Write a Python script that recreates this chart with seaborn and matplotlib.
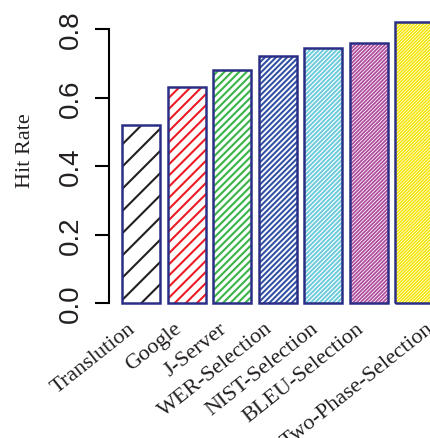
import matplotlib
matplotlib.use('Agg')
import matplotlib.pyplot as plt
import matplotlib.transforms as mtransforms
import seaborn as sns

# values
methods = ['Translution', 'Google', 'J-Server', 'WER-Selection',
           'NIST-Selection', 'BLEU-Selection', 'Two-Phase-Selection']
hit_rate = [0.52, 0.632, 0.681, 0.722, 0.744, 0.758, 0.820]
hatch_colors = ['#231F20', '#ED1C24', '#39B54A', '#3452A4',
                '#6CCBDC', '#B04E9E', '#F5E400']
hatches = ['/' * (3 * k) for k in range(1, 8)]
hatch_widths = [0.75, 0.75, 0.75, 0.75, 0.7, 0.65, 0.55]
y_ticks = [0.0, 0.2, 0.4, 0.6, 0.8]

sns.set_style('white')
plt.rcParams['hatch.linewidth'] = 0.7

# high dpi so the hatch tile gives the sparse R-like density
DPI = 200
fig = plt.figure(figsize=(430 / DPI, 439 / DPI), dpi=DPI)
ax = fig.add_axes([109 / 430, (439 - 304) / 439, 321 / 430, 274 / 439])

# hatched fill
sns.barplot(x=methods, y=hit_rate, color='white', width=0.835,
            linewidth=0, ax=ax)
for patch, hc, h, hw in zip(ax.patches, hatch_colors, hatches, hatch_widths):
    patch.set_facecolor('white')
    patch.set_edgecolor(hc)
    patch.set_hatch(h)
    if hasattr(patch, 'set_hatch_linewidth'):
        patch.set_hatch_linewidth(hw)
    else:
        patch._hatch_linewidth = hw
    patch.set_linewidth(0)
    patch.set_clip_on(False)

# navy outlines
n_fill = len(ax.patches)
sns.barplot(x=methods, y=hit_rate, color='#2B2E85', fill=False, width=0.835,
            linewidth=0.9, ax=ax)
for patch in ax.patches[n_fill:]:
    patch.set_edgecolor('#2B2E85')
    patch.set_clip_on(False)

ax.set_xlim(-0.714, 6.341)
ax.set_ylim(0, 0.8)

for side in ['top', 'right', 'bottom']:
    ax.spines[side].set_visible(False)
ax.spines['left'].set_bounds(0, 0.8)
ax.spines['left'].set_linewidth(0.75)
ax.spines['left'].set_color('black')

ax.set_yticks(y_ticks)
ax.set_yticklabels([f'{v:.1f}' for v in y_ticks], rotation=90, va='center',
                   family='Liberation Sans', fontsize=10)
ax.tick_params(axis='y', left=True, length=5, width=0.75, pad=4.0,
               color='black', labelcolor='#231F20')

ax.set_xticks(range(len(methods)))
ax.set_xticklabels(methods, rotation=38.5, ha='right', va='baseline',
                   rotation_mode='anchor', family='Liberation Serif',
                   fontsize=8, color='#231F20')
ax.tick_params(axis='x', bottom=False, length=0, pad=9.5)
for i, lab in enumerate(ax.get_xticklabels()):
    # the last label sits further right in the original
    dx = 20 if i == len(methods) - 1 else -5
    shift = mtransforms.ScaledTranslation(dx / DPI, 0, fig.dpi_scale_trans)
    lab.set_transform(lab.get_transform() + shift)

ax.set_xlabel('')
ax.set_ylabel('Hit Rate', family='Liberation Serif', fontsize=8,
              color='#231F20')
ax.yaxis.set_label_coords(-0.23, 0.558)

fig.savefig('out.png', dpi=DPI)
